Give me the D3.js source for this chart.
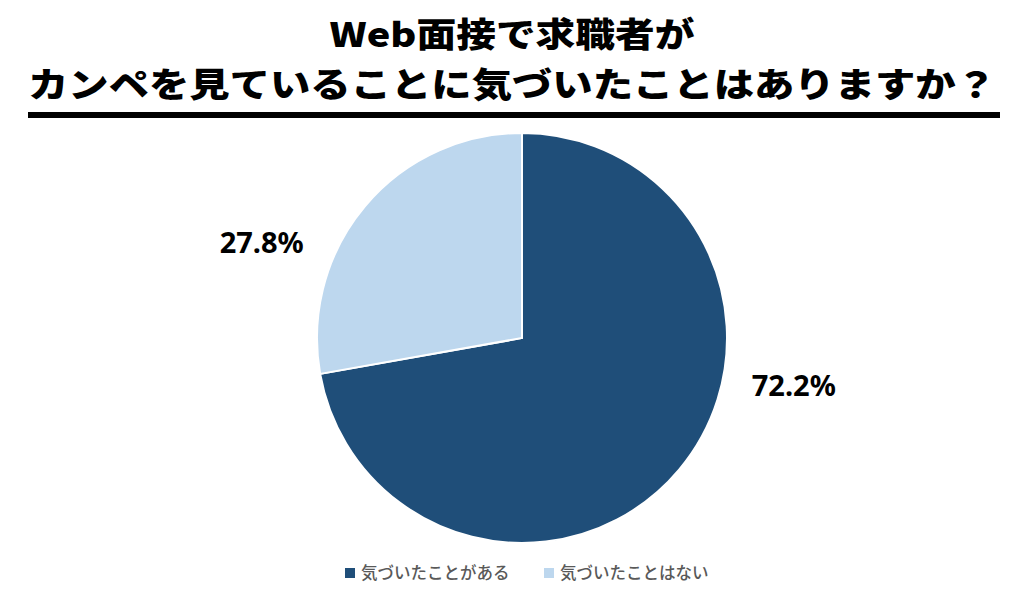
<!DOCTYPE html>
<html>
<head>
<meta charset="utf-8">
<script src="https://cdn.jsdelivr.net/npm/d3@7"></script>
<style>
  body { margin: 0; background: #fff; }
  svg { display: block; }
</style>
</head>
<body>
<svg id="canvas"></svg>
<script>
// pie of "did you notice the candidate reading notes"

let categories = ['気づいたことがある', '気づいたことはない']
let values = [72.2, 27.8]
let colors = ['#1f4e79', '#bdd7ee']

let width = 1024
let height = 612
let cx = 522
let cy = 338
let radius = 205

// label spots in polar form (angle in degrees from top, distance from centre)
let labelPolar = [[100, 276], [290, 277]]

let svg = d3.select('#canvas')
            .attr('width', width)
            .attr('height', height)

// title
let title = svg.append('g')
title.append('text')
     .attr('x', 512).attr('y', 47)
     .attr('text-anchor', 'middle')
     .style('font-family', '"Noto Sans CJK JP"')
     .style('font-weight', 900)
     .style('font-size', '34px')
     .attr('textLength', 365)
     .attr('lengthAdjust', 'spacingAndGlyphs')
     .text('Web面接で求職者が')
title.append('text')
     .attr('x', 512).attr('y', 97)
     .attr('text-anchor', 'middle')
     .style('font-family', '"Noto Sans CJK JP"')
     .style('font-weight', 900)
     .style('font-size', '34px')
     .attr('textLength', 968)
     .attr('lengthAdjust', 'spacingAndGlyphs')
     .text('カンペを見ていることに気づいたことはありますか？')

svg.append('rect')
   .attr('x', 28).attr('y', 112)
   .attr('width', 972).attr('height', 6)
   .attr('fill', '#000')

// pie
let pie = d3.pie().sort(null).value(d => d)
let arc = d3.arc().innerRadius(0).outerRadius(radius)
let color = d3.scaleOrdinal().domain(categories).range(colors)

let g = svg.append('g').attr('transform', `translate(${cx},${cy})`)
let arcs = pie(values)

g.selectAll('path')
 .data(arcs)
 .enter()
 .append('path')
 .attr('d', arc)
 .attr('fill', (d, i) => color(categories[i]))
 .attr('stroke', '#fff')
 .attr('stroke-width', 2)

g.selectAll('.lbl')
 .data(arcs)
 .enter()
 .append('text')
 .attr('class', 'lbl')
 .attr('x', (d, i) => Math.sin(labelPolar[i][0] * Math.PI / 180) * labelPolar[i][1])
 .attr('y', (d, i) => -Math.cos(labelPolar[i][0] * Math.PI / 180) * labelPolar[i][1])
 .attr('dy', '0.35em')
 .attr('text-anchor', 'middle')
 .style('font-family', '"Noto Sans"')
 .style('font-weight', 700)
 .style('font-size', '29px')
 .style('fill', '#000')
 .text(d => d.data.toFixed(1) + '%')

// legend
let legendX = d3.scaleOrdinal().domain(categories).range([345, 544])
let legend = svg.append('g')
let item = legend.selectAll('g')
                 .data(categories)
                 .enter()
                 .append('g')
                 .attr('transform', d => `translate(${legendX(d)},573)`)
item.append('rect')
    .attr('x', 0).attr('y', -5)
    .attr('width', 10).attr('height', 10)
    .attr('fill', d => color(d))
item.append('text')
    .attr('x', 16)
    .attr('dy', '0.35em')
    .style('font-family', '"Noto Sans CJK JP"')
    .style('font-weight', 500)
    .style('font-size', '16.5px')
    .style('fill', '#595959')
    .text(d => d)
</script>
</body>
</html>
